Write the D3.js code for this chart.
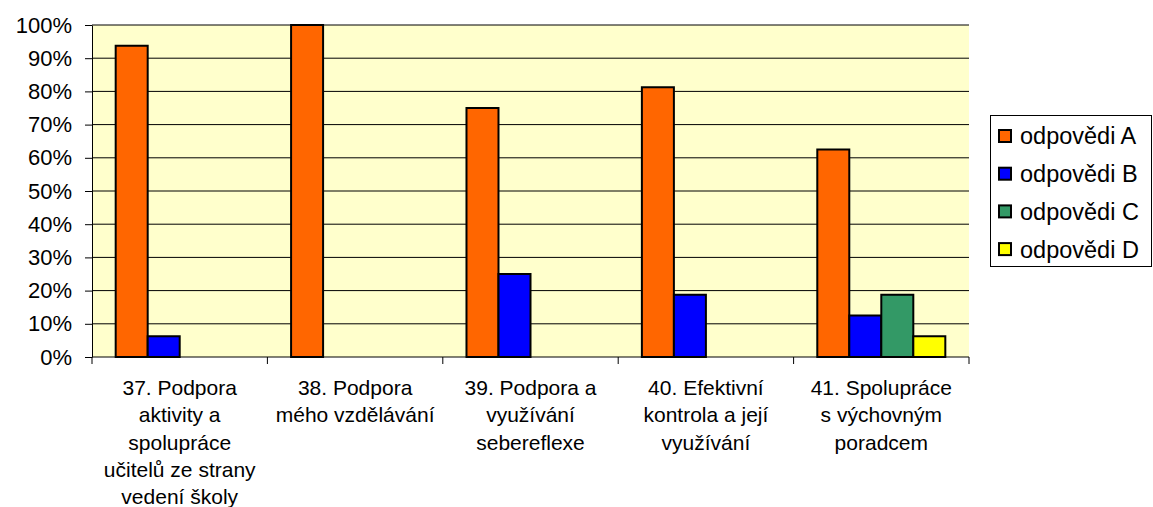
<!DOCTYPE html>
<html>
<head>
<meta charset="utf-8">
<script src="https://cdn.jsdelivr.net/npm/d3@7"></script>
<style>
  body { margin: 0; background: #fff; }
  svg text { font-family: "Liberation Sans", Arial, sans-serif; fill: #000; }
</style>
</head>
<body>
<div class="chart"></div>
<script>
var categories = [
  ["37. Podpora", "aktivity a", "spolupráce", "učitelů ze strany", "vedení školy"],
  ["38. Podpora", "mého vzdělávání"],
  ["39. Podpora a", "využívání", "sebereflexe"],
  ["40. Efektivní", "kontrola a její", "využívání"],
  ["41. Spolupráce", "s výchovným", "poradcem"]
];
var seriesNames = ["odpovědi A", "odpovědi B", "odpovědi C", "odpovědi D"];
var seriesColors = ["#ff6600", "#0000ff", "#339966", "#ffff00"];
var valuesA = [93.75, 100, 75, 81.25, 62.5];
var valuesB = [6.25, 0, 25, 18.75, 12.5];
var valuesC = [0, 0, 0, 0, 18.75];
var valuesD = [0, 0, 0, 0, 6.25];
var yTicks = [0, 10, 20, 30, 40, 50, 60, 70, 80, 90, 100];

var margin = {top: 25, left: 92};
var width = 877, height = 332;

var svg = d3.select('.chart')
  .append('svg')
    .attr('width', 1153)
    .attr('height', 507);

var g = svg.append('g')
    .attr('transform', `translate(${margin.left}, ${margin.top})`);

var x0 = d3.scaleBand()
    .domain(d3.range(categories.length))
    .range([0, width])
    .paddingInner(0)
    .paddingOuter(0);

var x1 = d3.scaleBand()
    .domain(d3.range(seriesNames.length))
    .range([0, x0.bandwidth()])
    .paddingOuter(0.74);

var y = d3.scaleLinear().domain([0, 100]).range([height, 0]);

// plot background
g.append('rect')
    .attr('x', 0).attr('y', 0)
    .attr('width', width).attr('height', height)
    .attr('fill', '#ffffcc');

// gridlines
g.selectAll('line.grid')
  .data(yTicks.slice(1))
  .enter()
  .append('line')
    .attr('class', 'grid')
    .attr('x1', 0).attr('x2', width)
    .attr('y1', d => y(d)).attr('y2', d => y(d))
    .attr('stroke', '#000').attr('stroke-width', 1);

// bars
var series = [valuesA, valuesB, valuesC, valuesD];
var rows = [];
series.forEach(function(vals, s) {
  vals.forEach(function(v, c) {
    if (v > 0) rows.push({s: s, c: c, v: v});
  });
});

g.selectAll('rect.bar')
  .data(rows)
  .enter()
  .append('rect')
    .attr('class', 'bar')
    .attr('x', d => x0(d.c) + x1(d.s))
    .attr('y', d => y(d.v))
    .attr('width', x1.bandwidth())
    .attr('height', d => height - y(d.v))
    .attr('fill', d => seriesColors[d.s])
    .attr('stroke', '#000')
    .attr('stroke-width', 2);

// y axis
var yAxis = g.append('g')
    .call(d3.axisLeft(y).tickValues(yTicks).tickFormat(d => d + '%').tickSize(7).tickSizeOuter(0));
yAxis.select('.domain').attr('stroke', '#000');
yAxis.selectAll('text').attr('font-size', 22).attr('x', -20);

// x axis
var xAxisG = g.append('g').attr('transform', `translate(0, ${height})`);
xAxisG.append('line')
    .attr('x1', 0).attr('x2', width)
    .attr('stroke', '#000');
xAxisG.selectAll('line.tick')
  .data(d3.range(categories.length + 1))
  .enter()
  .append('line')
    .attr('class', 'tick')
    .attr('x1', d => d * x0.step()).attr('x2', d => d * x0.step())
    .attr('y1', 0).attr('y2', 7)
    .attr('stroke', '#000');

var labels = xAxisG.selectAll('text.cat')
  .data(categories)
  .enter()
  .append('text')
    .attr('class', 'cat')
    .attr('text-anchor', 'middle')
    .attr('font-size', 21)
    .attr('transform', (d, i) => `translate(${x0(i) + x0.bandwidth() / 2}, 38)`);

labels.selectAll('tspan')
  .data(d => d)
  .enter()
  .append('tspan')
    .attr('x', 0)
    .attr('dy', (d, i) => i === 0 ? 0 : 27.3)
    .text(d => d);

// legend
var legend = svg.append('g').attr('transform', 'translate(990, 115)');
legend.append('rect')
    .attr('x', 0.5).attr('y', 0.5)
    .attr('width', 161).attr('height', 151)
    .attr('fill', '#fff').attr('stroke', '#000');

var items = legend.selectAll('g.item')
  .data(seriesNames)
  .enter()
  .append('g')
    .attr('class', 'item')
    .attr('transform', (d, i) => `translate(9, ${21 + i * 37.7})`);

items.append('rect')
    .attr('x', 0).attr('y', -6)
    .attr('width', 12).attr('height', 12)
    .attr('fill', (d, i) => seriesColors[i])
    .attr('stroke', '#000').attr('stroke-width', 2);

items.append('text')
    .attr('x', 21)
    .attr('dy', '0.36em')
    .attr('font-size', 23.5)
    .text(d => d);
</script>
</body>
</html>
